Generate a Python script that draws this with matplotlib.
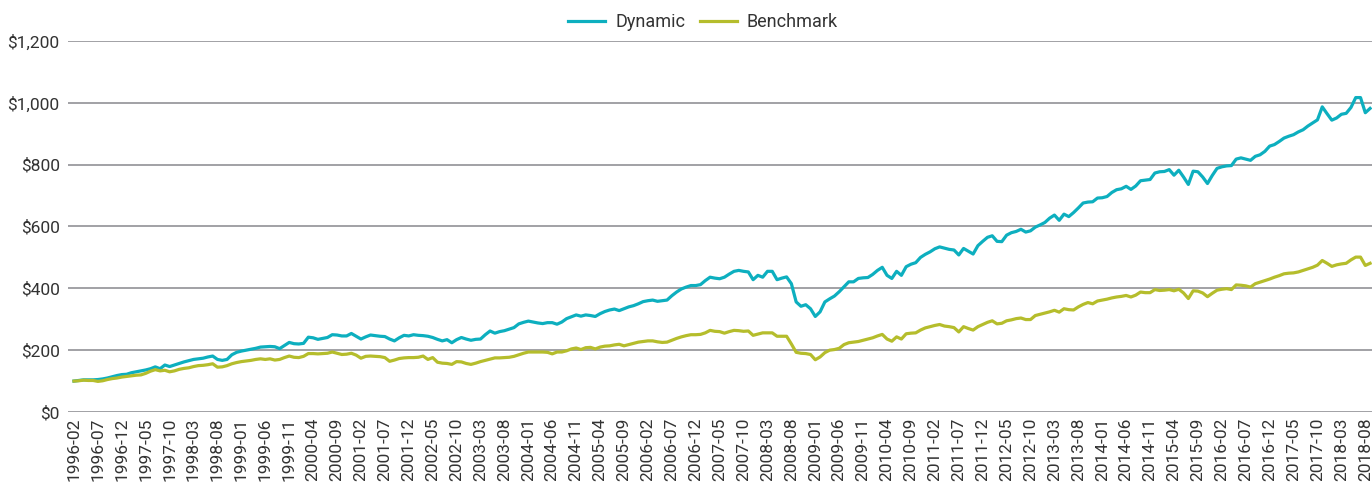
import matplotlib
matplotlib.use("Agg")
import matplotlib.pyplot as plt
import pandas as pd

start_month = "1996-02"
n_months = 272
months = [d.strftime("%Y-%m") for d in pd.date_range(start_month, periods=n_months, freq="MS")]

dynamic = [
    100, 102, 104, 104, 104, 105, 107, 110, 114, 118, 121, 122, 127, 130, 133, 136, 140, 146, 140, 152,
    147, 152, 157, 162, 166, 170, 172, 174, 178, 181, 170, 167, 170, 185, 193, 197, 200, 203, 206, 210,
    211, 212, 211, 205, 215, 225, 221, 220, 222, 242, 240, 235, 238, 241, 250, 249, 246, 246, 254, 245,
    236, 243, 249, 247, 245, 244, 236, 230, 240, 248, 246, 250, 248, 247, 245, 241, 235, 230, 234, 224,
    234, 241, 236, 232, 235, 236, 250, 262, 255, 260, 263, 268, 273, 285, 290, 294, 291, 288, 286, 289,
    289, 284, 291, 302, 308, 314, 310, 314, 312, 309, 318, 325, 330, 333, 328, 334, 340, 344, 350, 357,
    360, 362, 358, 360, 362, 376, 388, 398, 404, 409, 409, 412, 425, 436, 433, 431, 436, 446, 455, 458,
    455, 453, 428, 442, 436, 455, 455, 428, 433, 437, 415, 356, 342, 347, 334, 309, 324, 356, 366, 375,
    389, 405, 421, 421, 432, 434, 435, 445, 458, 468, 442, 432, 455, 442, 470, 478, 483, 500, 510, 518,
    528, 534, 530, 526, 524, 508, 529, 520, 511, 538, 552, 565, 570, 552, 551, 572, 580, 584, 591, 582,
    586, 598, 605, 613, 627, 637, 620, 640, 632, 645, 660, 676, 679, 680, 692, 693, 697, 710, 719, 722,
    730, 720, 731, 748, 750, 752, 773, 777, 778, 784, 766, 782, 760, 736, 779, 777, 760, 739, 765, 788,
    793, 796, 797, 818, 822, 818, 814, 827, 832, 843, 860, 865, 875, 886, 892, 897, 906, 913, 925, 935,
    945, 987, 965, 944, 951, 963, 966, 985, 1017, 1017, 968, 982,
]

benchmark = [
    100, 101, 103, 102, 102, 99, 101, 105, 108, 110, 113, 115, 117, 119, 120, 125, 132, 137, 133, 135,
    130, 133, 138, 141, 143, 147, 150, 151, 153, 156, 145, 146, 150, 156, 160, 163, 165, 167, 170, 172,
    170, 172, 168, 170, 176, 181, 177, 176, 180, 189, 189, 188, 189, 190, 194, 190, 186, 187, 190, 184,
    174, 180, 181, 180, 179, 176, 164, 168, 173, 175, 176, 176, 177, 181, 170, 176, 161, 158, 157, 154,
    163, 162, 157, 154, 158, 163, 167, 171, 175, 175, 176, 177, 180, 185, 190, 194, 194, 194, 194, 193,
    188, 194, 194, 198, 204, 207, 202, 208, 209, 204, 210, 213, 214, 217, 219, 214, 218, 222, 226, 228,
    230, 230, 227, 225, 226, 232, 238, 243, 247, 250, 250, 251, 256, 264, 261, 260, 255, 260, 264, 263,
    261, 262, 248, 252, 256, 256, 256, 245, 245, 245, 220, 193, 190, 189, 186, 169, 178, 192, 200, 202,
    206, 218, 224, 226, 228, 232, 236, 240, 246, 251, 236, 229, 243, 236, 253, 255, 256, 265, 272, 276,
    280, 283, 278, 276, 273, 259, 276, 270, 265, 276, 283, 290, 295, 285, 287, 295, 298, 302, 304, 299,
    299, 312, 316, 320, 324, 329, 323, 334, 331, 330, 340, 348, 354, 350, 359, 362, 365, 369, 372, 374,
    377, 372, 378, 388, 386, 386, 396, 393, 394, 396, 392, 397, 385, 367, 392, 391, 385, 373, 384, 394,
    397, 399, 396, 411, 410, 408, 404, 415, 420, 425, 430, 436, 441, 447, 449, 450, 453, 458, 463, 468,
    475, 490, 481, 471, 476, 479, 481, 492, 501, 501, 474, 481,
]

y_ticks = [0, 200, 400, 600, 800, 1000, 1200]
tick_step = 5

plt.rcParams['font.family'] = ['Roboto', 'DejaVu Sans']

fig = plt.figure(figsize=(13.72, 4.87), dpi=100)
ax = fig.add_axes([68 / 1372, 75 / 487, 1 - 68 / 1372, (412 - 41) / 487])

x = list(range(len(months)))
ax.plot(x, dynamic, color="#0DAFBF", lw=2.3, label="Dynamic", solid_joinstyle="round", zorder=3)
ax.plot(x, benchmark, color="#B5BD2C", lw=2.3, label="Benchmark", solid_joinstyle="round", zorder=3)

ax.set_ylim(0, 1200)
ax.set_xlim(-1.25, 271.4)
ax.set_yticks(y_ticks)
ax.set_yticklabels([f"${v:,}" for v in y_ticks])
ax.set_xticks(x[::tick_step])
ax.set_xticklabels(months[::tick_step], rotation=90)

ax.grid(axis="y", color="#9A9A9E", lw=1.3)
ax.set_axisbelow(True)
for s in ax.spines.values():
    s.set_visible(False)
ax.tick_params(axis="both", length=0, colors="#333333")
ax.tick_params(axis="y", labelsize=12.5, pad=6)
ax.tick_params(axis="x", labelsize=12.5, pad=4)

leg = fig.legend(loc="center", bbox_to_anchor=(703 / 1372, 1 - 22 / 487), ncol=2, frameon=False,
                 fontsize=13, handlelength=2.05, columnspacing=0.8, handletextpad=0.55)
for t in leg.get_texts():
    t.set_color("#333333")

fig.savefig("out.png", dpi=100)
